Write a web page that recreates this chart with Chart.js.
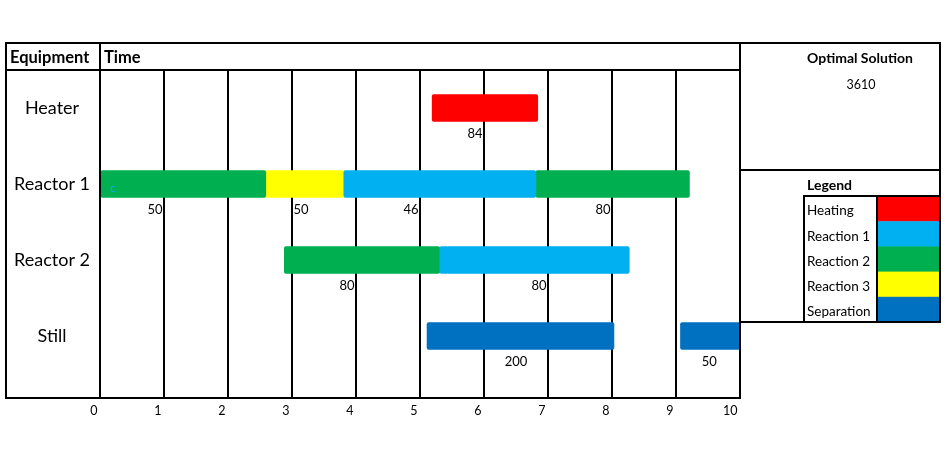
<!DOCTYPE html>
<html>
<head>
<meta charset="utf-8">
<script src="https://cdn.jsdelivr.net/npm/chart.js@4"></script>
<style>
  html, body { margin: 0; padding: 0; background: #fff; }
  #wrap { width: 947px; height: 460px; position: relative; }
</style>
</head>
<body>
<div id="wrap"><canvas id="c" width="947" height="460"></canvas></div>
<script>
// ---- data ----
const equipment = ['Heater', 'Reactor 1', 'Reactor 2', 'Still'];
const activities = ['Heating', 'Reaction 1', 'Reaction 2', 'Reaction 3', 'Separation'];
const activityColors = ['#FF0000', '#00B0F0', '#00B050', '#FFFF00', '#0070C0'];
const timeTicks = [0, 1, 2, 3, 4, 5, 6, 7, 8, 9, 10];

const taskEquipment = [0, 1, 1, 1, 1, 2, 2, 3, 3];
const taskActivity  = [0, 2, 3, 1, 2, 2, 1, 4, 4];
const taskStart     = [5.19, 0.00, 2.59, 3.81, 6.81, 2.88, 5.31, 5.11, 9.07];
const taskEnd       = [6.84, 2.59, 3.81, 6.81, 9.21, 5.31, 8.27, 8.03, 10.0];
const taskAmount    = [84, 50, 50, 46, 80, 80, 80, 200, 50];
const labelTime     = [5.86, 0.86, 3.14, 4.86, 7.86, 3.86, 6.86, 6.5, 9.52];

const optimalSolution = 3610;
const noteText = 'c';
const noteTime = 0.2;
const noteRow = 1;

const FONT = 'Lato, "Open Sans", "Liberation Sans", sans-serif';

// ---- datasets (one per activity) ----
const datasets = activities.map((name, a) => {
  const data = [];
  taskActivity.forEach((act, i) => {
    if (act === a) data.push({ x: [taskStart[i], taskEnd[i]], y: taskEquipment[i] });
  });
  return {
    label: name,
    data,
    backgroundColor: activityColors[a],
    borderWidth: 0,
    borderRadius: 2,
    borderSkipped: false,
    barThickness: 27,
    grouped: false
  };
});

// ---- plugin: table frame, header, labels, side panel ----
const tablePlugin = {
  id: 'tablePlugin',
  beforeDraw(chart) {
    const ctx = chart.ctx;
    ctx.save();
    ctx.fillStyle = '#fff';
    ctx.fillRect(0, 0, chart.width, chart.height);
    ctx.restore();
  },
  afterDatasetsDraw(chart) {
    const ctx = chart.ctx;
    const xs = chart.scales.x, ys = chart.scales.y;
    ctx.save();
    ctx.fillStyle = '#000';
    ctx.font = '13px ' + FONT;
    ctx.textAlign = 'center';
    ctx.textBaseline = 'middle';
    taskAmount.forEach((v, i) => {
      const px = xs.getPixelForValue(labelTime[i]);
      const py = ys.getPixelForValue(taskEquipment[i]) + 26;
      ctx.fillText(String(v), px, py);
    });
    ctx.fillStyle = '#00B0F0';
    ctx.font = '11px ' + FONT;
    ctx.fillText(noteText, xs.getPixelForValue(noteTime), ys.getPixelForValue(noteRow) + 4);
    ctx.restore();
  },
  afterDraw(chart) {
    const ctx = chart.ctx;
    const area = chart.chartArea;
    const L = 6, T = 43, HB = area.top, R = area.right, B = area.bottom;
    ctx.save();
    ctx.strokeStyle = '#000';
    ctx.lineWidth = 2;
    ctx.strokeRect(L, T, R - L, B - T);
    ctx.beginPath(); ctx.moveTo(L, HB); ctx.lineTo(R, HB); ctx.stroke();
    ctx.beginPath(); ctx.moveTo(area.left, T); ctx.lineTo(area.left, B); ctx.stroke();
    ctx.fillStyle = '#000';
    ctx.font = 'bold 16.5px ' + FONT;
    ctx.textBaseline = 'middle';
    ctx.textAlign = 'left';
    ctx.fillText('Equipment', L + 4, (T + HB) / 2 + 1);
    ctx.fillText('Time', area.left + 4, (T + HB) / 2 + 1);

    const PL = R, PR = 940, PM = 170, PB = 322;
    ctx.strokeRect(PL, T, PR - PL, PB - T);
    ctx.beginPath(); ctx.moveTo(PL, PM); ctx.lineTo(PR, PM); ctx.stroke();
    ctx.textAlign = 'center';
    ctx.font = 'bold 14px ' + FONT;
    ctx.fillText('Optimal Solution', 860, 58);
    ctx.font = '12.5px ' + FONT;
    ctx.fillText(String(optimalSolution), 861, 85);

    ctx.textAlign = 'left';
    ctx.font = 'bold 14px ' + FONT;
    ctx.fillText('Legend', 807, 185);
    const LL = 804, LT = 196, LD = 877, rowH = (PB - LT) / activities.length;
    activities.forEach((name, i) => {
      ctx.fillStyle = activityColors[i];
      ctx.fillRect(LD, LT + i * rowH, PR - LD, rowH + 0.5);
      ctx.fillStyle = '#000';
      ctx.font = '13.5px ' + FONT;
      ctx.fillText(name, 807, LT + (i + 0.6) * rowH);
    });
    ctx.strokeRect(LL, LT, PR - LL, PB - LT);
    ctx.beginPath(); ctx.moveTo(LD, LT); ctx.lineTo(LD, PB); ctx.stroke();
    ctx.restore();
  }
};

new Chart(document.getElementById('c'), {
  type: 'bar',
  data: { datasets },
  plugins: [tablePlugin],
  options: {
    responsive: false,
    animation: false,
    indexAxis: 'y',
    layout: { padding: { left: 6, top: 70, right: 207, bottom: 0 } },
    plugins: { legend: { display: false }, tooltip: { enabled: false } },
    scales: {
      x: {
        type: 'linear',
        min: timeTicks[0],
        max: timeTicks[timeTicks.length - 1],
        afterBuildTicks: (s) => { s.ticks = timeTicks.map(v => ({ value: v })); },
        afterFit: (s) => { s.height = 62; },
        grid: { color: '#000', lineWidth: 2, drawTicks: false },
        border: { display: false },
        ticks: { color: '#000', font: { size: 12.5, family: FONT }, padding: 5, align: 'end', labelOffset: -2.5 }
      },
      y: {
        type: 'linear',
        reverse: true,
        offset: false,
        min: -0.5,
        max: 3.8158,
        afterBuildTicks: (s) => { s.ticks = equipment.map((_, i) => ({ value: i })); },
        afterFit: (s) => { s.width = 94; },
        grid: { display: false, drawTicks: false },
        border: { display: false },
        ticks: {
          color: '#000',
          crossAlign: 'center',
          padding: 10,
          font: { size: 18, family: FONT },
          callback: (v) => equipment[v]
        }
      }
    }
  }
});
</script>
</body>
</html>
